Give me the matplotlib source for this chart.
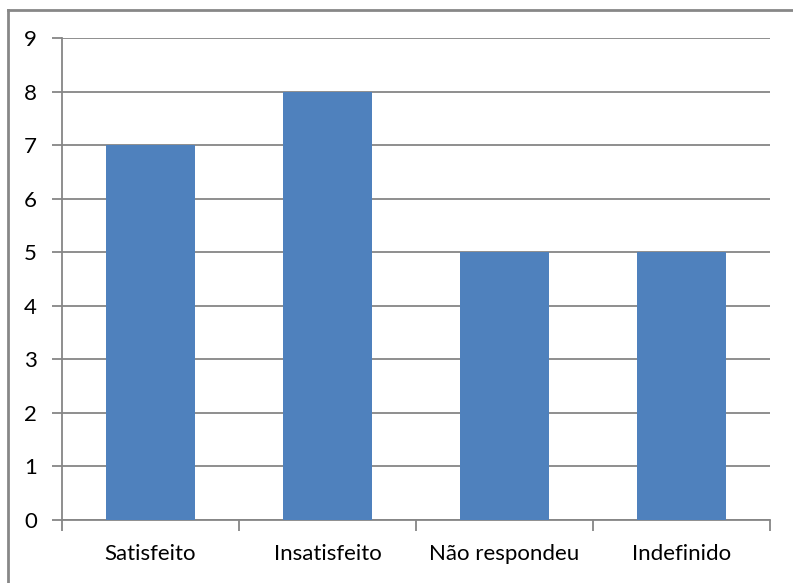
import matplotlib
matplotlib.use('Agg')
import matplotlib.pyplot as plt
import matplotlib.lines as mlines

categories = ['Satisfeito', 'Insatisfeito', 'Não respondeu', 'Indefinido']
values = [7, 8, 5, 5]

plt.rcParams['font.family'] = ['Lato', 'DejaVu Sans']

fig = plt.figure(figsize=(7.93, 5.83), dpi=100)
ax = fig.add_axes([62 / 793, 1 - 520 / 583, (770 - 62) / 793, (520 - 38) / 583])

x = range(len(categories))
ax.bar(x, values, width=0.5, color='#4F81BD', zorder=3)

ax.set_xlim(-0.5, len(categories) - 0.5)
ax.set_ylim(0, 9)
ax.set_yticks(range(0, 10))
ax.yaxis.grid(True, color='#868686', linewidth=1.3, zorder=0)

ax.set_xticks(list(x))
ax.set_xticklabels(categories, fontsize=16)
ax.tick_params(axis='x', length=0, pad=17)
ax.set_xticks([i - 0.5 for i in range(len(categories) + 1)], minor=True)
ax.tick_params(axis='x', which='minor', length=8, width=1.3, color='#868686')
ax.tick_params(axis='y', length=7, width=1.3, color='#868686', labelsize=16, pad=11)

for side in ['top', 'right']:
    ax.spines[side].set_visible(False)
for side in ['left', 'bottom']:
    ax.spines[side].set_color('#868686')
    ax.spines[side].set_linewidth(1.3)

# outer chart border
fig.add_artist(mlines.Line2D([8 / 793, 8 / 793], [0, 1 - 10 / 583], color='#878787', linewidth=2))
fig.add_artist(mlines.Line2D([8 / 793, 1], [1 - 10 / 583, 1 - 10 / 583], color='#878787', linewidth=2))

fig.savefig('out.png', dpi=100)
